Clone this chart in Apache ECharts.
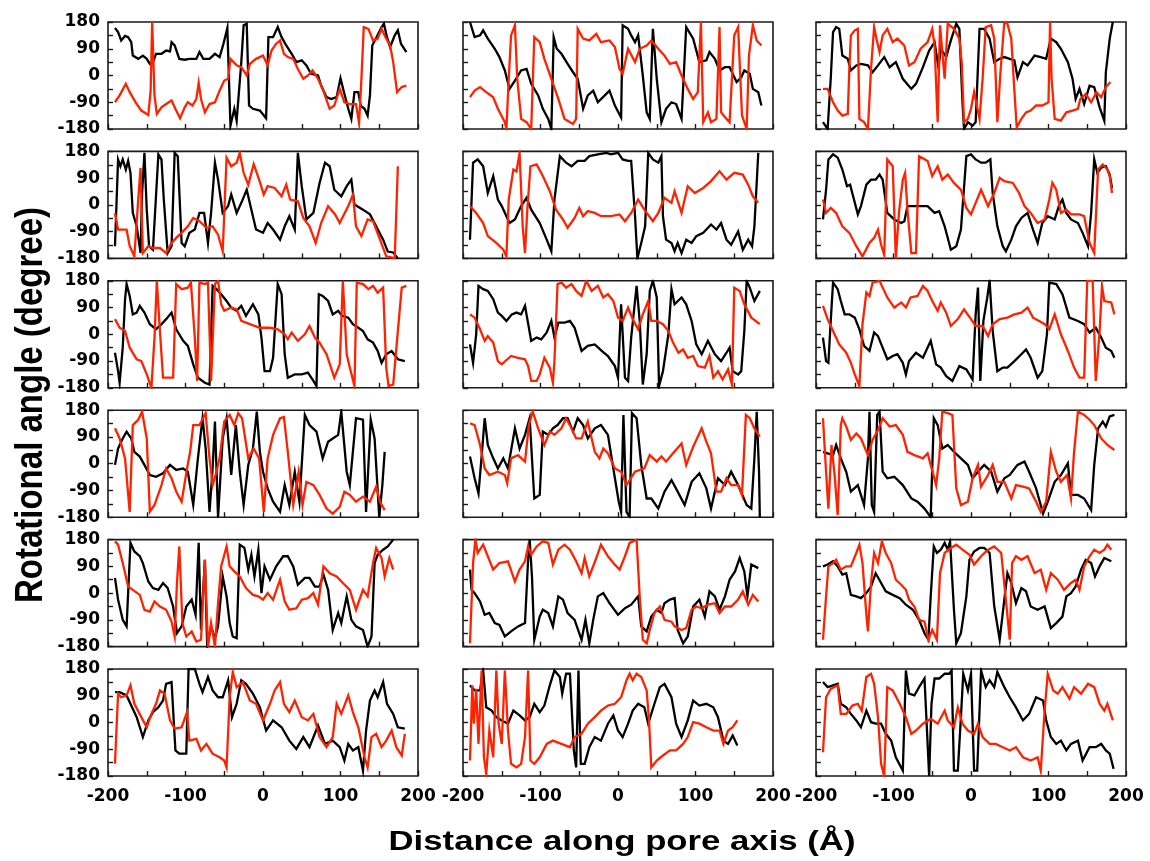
<!DOCTYPE html>
<html>
<head>
<meta charset="utf-8">
<title>Rotational angle along pore axis</title>
<script src="https://cdn.jsdelivr.net/npm/echarts@6/dist/echarts.min.js"></script>
<style>
  html, body { margin: 0; padding: 0; background: #fff; }
  #chart { width: 1150px; height: 861px; }
</style>
</head>
<body>
<div id="chart"></div>
<script>
// Tick labels shown on the shared axes
const xTickLabels = [-200, -100, 0, 100, 200];
const yTickLabels = [-180, -90, 0, 90, 180];
const xTitle = 'Distance along pore axis (Å)';
const yTitle = 'Rotational angle (degree)';

// Each series: [distance along pore axis (Å), rotational angle (degree)]
// Row 1
const p11Black = [[-191,160],[-187,146],[-183,118],[-178,133],[-174,129],[-170,112],[-168,67],[-161,56],[-155,67],[-150,56],[-146,39],[-142,45],[-138,73],[-131,73],[-125,84],[-120,81],[-118,112],[-114,101],[-108,56],[-101,53],[-95,56],[-86,56],[-82,79],[-77,56],[-69,56],[-62,73],[-56,62],[-51,107],[-46,160],[-42,-169],[-37,-112],[-34,-152],[-28,45],[-25,169],[-21,174],[-18,-101],[-13,-112],[-4,-118],[4,-144],[7,129],[13,129],[19,163],[24,129],[30,101],[37,73],[43,45],[50,51],[56,34],[62,6],[71,0],[75,-34],[82,-73],[88,-79],[95,-73],[100,-9],[104,-51],[110,-112],[114,-146],[118,-56],[123,-56],[126,-101],[131,-112],[135,-135],[138,-67],[141,101],[146,126],[153,163],[156,174],[160,129],[164,96],[170,135],[174,152],[178,107],[185,79]];
const p11Red = [[-191,-90],[-185,-67],[-177,-28],[-172,-56],[-163,-96],[-157,-118],[-148,-133],[-145,-51],[-143,180],[-140,-67],[-137,-129],[-131,-107],[-125,-96],[-118,-84],[-112,-118],[-107,-144],[-101,-107],[-97,-90],[-91,-101],[-86,-79],[-83,-25],[-80,-79],[-75,-124],[-69,-96],[-62,-90],[-56,-51],[-50,-17],[-45,-11],[-42,56],[-34,34],[-28,28],[-21,0],[-17,39],[-9,56],[0,67],[6,34],[11,84],[17,107],[22,118],[27,73],[32,62],[39,56],[45,22],[52,-11],[58,0],[64,17],[71,-11],[77,-45],[86,-112],[92,-101],[99,-45],[105,-90],[112,-96],[120,-96],[124,-160],[127,-11],[130,163],[136,157],[142,118],[148,124],[153,157],[159,124],[164,101],[168,45],[173,-56],[179,-39],[185,-34]];
const p12Black = [[-191,180],[-185,129],[-178,135],[-174,152],[-168,124],[-159,90],[-153,62],[-146,17],[-140,-45],[-133,-17],[-125,17],[-118,22],[-112,-28],[-103,-67],[-97,-112],[-90,-146],[-86,-180],[-83,129],[-79,90],[-73,73],[-65,39],[-58,11],[-52,-11],[-45,-112],[-39,-67],[-32,-51],[-26,-90],[-17,-67],[-11,-51],[-4,-101],[4,-141],[6,169],[13,157],[17,135],[22,112],[26,135],[32,0],[37,-124],[41,-146],[45,157],[50,-11],[56,-157],[62,-112],[69,-90],[75,-96],[82,-146],[88,163],[97,124],[105,45],[114,51],[118,79],[125,56],[131,17],[138,28],[144,28],[153,-22],[159,-6],[163,17],[170,6],[174,-45],[181,-56],[185,-101]];
const p12Red = [[-191,-73],[-185,-51],[-178,-39],[-170,-56],[-161,-73],[-155,-112],[-146,-157],[-144,-180],[-141,-11],[-138,135],[-133,169],[-130,-11],[-125,-146],[-118,-157],[-112,-180],[-108,129],[-101,112],[-95,56],[-86,-11],[-77,-79],[-69,-146],[-58,-163],[-54,-146],[-52,157],[-45,124],[-37,118],[-28,140],[-22,112],[-11,118],[-4,96],[2,22],[6,6],[13,90],[22,45],[28,90],[37,101],[43,118],[52,90],[60,67],[67,39],[75,45],[82,0],[90,-45],[97,-79],[103,-56],[107,180],[110,-157],[116,-124],[120,-157],[127,-146],[131,163],[133,-124],[140,-146],[144,-157],[150,135],[155,163],[160,-135],[166,-180],[169,67],[174,169],[179,118],[185,101]];
const p13Black = [[-191,-157],[-185,-180],[-181,-11],[-178,146],[-174,163],[-170,157],[-166,67],[-159,56],[-155,17],[-148,34],[-142,39],[-133,34],[-127,11],[-120,34],[-112,62],[-105,28],[-97,45],[-88,-11],[-77,-45],[-71,-28],[-62,28],[-54,84],[-47,112],[-42,28],[-39,90],[-32,62],[-26,118],[-19,174],[-15,157],[-11,-90],[-9,-180],[-4,-157],[2,-169],[6,-157],[11,157],[17,157],[24,124],[30,45],[37,56],[43,62],[50,56],[56,51],[60,-6],[67,45],[73,34],[82,67],[90,62],[97,56],[103,124],[110,112],[116,90],[125,45],[131,-11],[135,-79],[140,-45],[146,-96],[153,-34],[159,-39],[166,-107],[172,-152],[174,11],[179,124],[183,180]];
const p13Red = [[-191,-45],[-185,-45],[-178,-90],[-172,-118],[-166,-135],[-159,-129],[-157,22],[-155,135],[-150,152],[-146,157],[-144,-146],[-138,-157],[-133,-180],[-129,22],[-125,163],[-122,124],[-118,79],[-114,135],[-108,157],[-101,112],[-95,124],[-86,101],[-80,34],[-73,45],[-65,90],[-56,112],[-50,157],[-47,101],[-43,-157],[-40,169],[-34,-11],[-30,174],[-22,157],[-15,124],[-12,45],[-9,-157],[-4,-146],[0,-112],[4,-56],[11,-146],[15,-11],[19,163],[26,169],[30,124],[34,-157],[38,11],[43,180],[47,174],[52,124],[55,-11],[59,-174],[65,-146],[71,-124],[77,-118],[84,-101],[92,-101],[100,-90],[102,180],[104,-11],[108,-146],[116,-152],[123,-124],[131,-118],[138,-112],[141,-79],[148,-62],[155,-90],[162,-56],[168,-73],[174,-39],[180,-22]];
// Row 2
const p21Black = [[-191,-139],[-187,153],[-184,130],[-181,153],[-177,119],[-174,148],[-171,108],[-168,-27],[-163,-72],[-158,-162],[-156,40],[-153,175],[-150,-16],[-147,-139],[-142,-151],[-135,170],[-131,153],[-128,18],[-123,-162],[-118,-139],[-114,175],[-110,164],[-105,-128],[-101,-139],[-95,-94],[-88,-83],[-82,-27],[-76,-27],[-71,-128],[-67,-27],[-62,142],[-58,85],[-52,-27],[-45,-4],[-41,35],[-34,-27],[-28,7],[-21,51],[-15,-16],[-9,-83],[0,-94],[6,-61],[13,-83],[22,-117],[28,-72],[34,-38],[41,-83],[45,175],[50,63],[56,-49],[65,-27],[73,74],[80,142],[86,130],[92,51],[101,29],[108,63],[114,85],[118,1],[129,-16],[138,-32],[146,-72],[155,-117],[161,-157],[168,-160],[174,-180]];
const p21Red = [[-191,-27],[-187,-83],[-181,-83],[-176,-83],[-172,-139],[-166,-173],[-161,18],[-158,124],[-155,-162],[-148,-139],[-142,-145],[-133,-145],[-125,-162],[-118,-128],[-112,-111],[-105,-94],[-97,-72],[-90,-44],[-82,-55],[-73,-77],[-65,-72],[-58,-100],[-52,-156],[-47,159],[-41,130],[-34,142],[-30,175],[-25,108],[-19,68],[-12,137],[-5,85],[1,35],[6,63],[15,57],[24,29],[30,68],[35,18],[45,12],[52,-44],[60,-72],[68,-128],[75,-61],[84,-4],[93,-32],[99,-61],[110,-4],[116,35],[120,-72],[127,-105],[135,-49],[142,-55],[151,-117],[159,-173],[170,-179],[174,130]];
const p22Black = [[-191,-117],[-187,142],[-181,153],[-174,130],[-168,40],[-161,97],[-155,18],[-150,-4],[-140,-61],[-133,-49],[-125,-4],[-118,24],[-112,-16],[-101,-61],[-92,-117],[-86,-156],[-82,18],[-75,164],[-67,142],[-60,130],[-52,148],[-43,148],[-37,164],[-26,170],[-15,175],[-9,170],[0,175],[6,153],[13,148],[17,148],[22,-38],[25,-180],[30,-128],[35,-72],[39,175],[45,153],[52,142],[56,164],[58,-38],[62,-117],[69,-128],[73,-156],[77,-128],[82,-162],[88,-117],[95,-128],[101,-105],[110,-94],[120,-66],[127,-83],[133,-61],[140,-117],[146,-134],[155,-89],[161,-151],[168,-117],[173,-139],[176,-72],[181,175]];
const p22Red = [[-191,-4],[-183,-27],[-174,-61],[-168,-105],[-157,-128],[-148,-151],[-144,-173],[-141,18],[-135,119],[-131,113],[-127,175],[-125,180],[-123,-72],[-120,-162],[-117,-16],[-113,130],[-105,136],[-97,97],[-88,46],[-80,-16],[-71,-49],[-65,-77],[-56,-44],[-50,-10],[-45,-38],[-39,-21],[-30,-27],[-22,-38],[-9,-38],[2,-32],[9,-55],[17,-27],[26,18],[34,-16],[45,-55],[52,-27],[60,24],[69,7],[73,46],[82,-27],[90,63],[99,40],[110,57],[120,80],[131,113],[140,85],[150,108],[161,102],[168,68],[174,29],[181,7]];
const p23Black = [[-191,-49],[-187,51],[-184,153],[-178,170],[-172,159],[-166,119],[-160,63],[-156,68],[-151,18],[-146,-32],[-142,-4],[-135,68],[-129,85],[-123,85],[-118,102],[-114,85],[-108,-27],[-99,-49],[-90,-61],[-86,-55],[-82,-4],[-73,-4],[-65,-4],[-56,-4],[-47,-27],[-41,-21],[-34,-72],[-26,-151],[-19,-139],[-13,-83],[-6,164],[0,170],[6,153],[13,142],[19,142],[25,153],[28,40],[34,-72],[41,-139],[45,-156],[52,-117],[58,-72],[65,-44],[73,-27],[80,-83],[86,-128],[92,-61],[99,-38],[108,-49],[114,1],[118,18],[123,-27],[129,-49],[138,-61],[144,-94],[151,-139],[155,-27],[159,153],[163,108],[168,125],[174,130],[179,102],[182,57]];
const p23Red = [[-191,18],[-187,-27],[-181,-10],[-174,-27],[-166,-72],[-157,-94],[-148,-139],[-140,-173],[-131,-128],[-125,-111],[-120,-83],[-116,-134],[-112,-168],[-108,153],[-101,130],[-97,-180],[-93,-27],[-88,85],[-85,108],[-82,-16],[-77,-162],[-71,-162],[-67,164],[-56,148],[-50,97],[-43,130],[-37,85],[-30,102],[-22,74],[-13,51],[-6,-10],[0,-32],[6,7],[13,51],[22,-4],[30,40],[37,91],[43,80],[54,74],[62,40],[69,-4],[77,-27],[86,-61],[95,-49],[101,18],[105,74],[110,51],[116,-27],[123,-16],[129,-32],[140,-32],[146,-38],[153,-128],[159,-162],[164,119],[170,136],[176,119],[179,96],[182,40]];
// Row 3
const p31Black = [[-191,-62],[-187,-124],[-185,-163],[-181,-45],[-178,118],[-176,169],[-172,129],[-168,67],[-163,73],[-159,96],[-153,73],[-146,34],[-138,17],[-131,34],[-125,51],[-118,73],[-112,17],[-103,-22],[-97,-39],[-90,-101],[-84,-146],[-75,-163],[-69,-169],[-65,163],[-60,152],[-54,135],[-47,112],[-41,90],[-34,79],[-28,96],[-22,62],[-13,101],[-6,67],[-2,-11],[2,-124],[9,-124],[13,-79],[19,169],[24,135],[28,-67],[32,-146],[41,-135],[50,-135],[58,-129],[65,-157],[69,-174],[72,135],[77,129],[84,112],[90,67],[97,79],[102,62],[110,56],[116,34],[123,22],[129,11],[135,-17],[142,-28],[148,-56],[153,-96],[159,-67],[166,-56],[174,-84],[183,-90]];
const p31Red = [[-191,51],[-185,22],[-178,11],[-172,-45],[-163,-84],[-157,-90],[-150,-135],[-144,-180],[-140,-11],[-137,180],[-133,11],[-129,-146],[-123,-146],[-116,-146],[-112,169],[-105,152],[-97,157],[-93,174],[-88,-11],[-85,-157],[-82,174],[-75,169],[-71,174],[-67,-157],[-62,169],[-58,180],[-54,101],[-50,79],[-41,90],[-34,84],[-28,45],[-17,34],[-4,22],[9,22],[19,17],[28,0],[32,-17],[37,6],[45,-22],[54,0],[60,28],[67,-11],[73,-28],[82,-67],[92,-146],[99,-101],[103,180],[108,-67],[112,-112],[118,-174],[121,174],[129,169],[136,152],[142,163],[148,140],[155,157],[159,-112],[162,-174],[168,-169],[174,11],[179,157],[185,163]];
const p32Black = [[-191,-34],[-187,-96],[-183,0],[-180,163],[-174,152],[-168,146],[-161,118],[-155,73],[-150,62],[-144,45],[-137,67],[-131,73],[-125,67],[-120,96],[-112,-22],[-105,-11],[-99,-17],[-92,6],[-86,45],[-82,-11],[-77,39],[-69,39],[-62,45],[-56,22],[-47,-56],[-39,-39],[-30,-34],[-21,-56],[-13,-73],[-4,-107],[0,-146],[4,101],[9,-146],[13,-157],[17,-11],[24,163],[28,45],[32,-169],[37,-67],[41,146],[45,180],[50,124],[53,-174],[58,-124],[65,0],[69,152],[73,101],[82,124],[88,101],[95,45],[101,-34],[108,-67],[116,-22],[125,-67],[133,-90],[140,-62],[144,-45],[148,-124],[155,-135],[159,-124],[163,11],[166,180],[170,157],[176,112],[183,146]];
const p32Red = [[-191,67],[-185,56],[-178,17],[-172,-22],[-168,-6],[-161,-28],[-155,-90],[-150,-101],[-138,-73],[-129,-79],[-120,-84],[-116,-107],[-112,-157],[-105,-157],[-101,-135],[-95,-79],[-88,-112],[-84,-163],[-82,-90],[-78,169],[-73,174],[-67,157],[-60,169],[-54,146],[-47,129],[-41,180],[-34,146],[-26,163],[-19,124],[-13,135],[-6,112],[0,56],[6,45],[13,90],[19,51],[26,17],[32,67],[39,112],[43,45],[50,45],[58,34],[65,11],[71,-28],[78,-62],[84,-51],[90,-79],[97,-73],[103,-107],[112,-112],[118,-73],[123,-146],[129,-124],[135,-152],[142,-118],[147,-169],[150,157],[157,146],[163,101],[172,56],[183,34]];
const p33Black = [[-191,-11],[-187,-90],[-184,-96],[-181,45],[-178,174],[-172,152],[-168,112],[-163,67],[-157,67],[-150,56],[-144,17],[-138,-39],[-131,-56],[-125,6],[-120,-6],[-114,-45],[-108,-84],[-101,-73],[-95,-67],[-88,-96],[-84,-135],[-80,-90],[-71,-62],[-62,-79],[-52,-22],[-45,-101],[-39,-112],[-32,-141],[-24,-157],[-15,-107],[-6,-118],[2,-152],[6,67],[9,157],[12,-157],[16,45],[21,124],[24,180],[28,11],[34,-124],[41,-112],[47,-112],[56,-90],[65,-67],[71,-51],[77,-79],[86,-146],[92,-124],[98,0],[101,174],[110,169],[118,135],[127,56],[138,45],[146,34],[153,6],[161,22],[168,-11],[174,-45],[181,-56],[185,-79]];
const p33Red = [[-191,96],[-185,51],[-178,11],[-170,-34],[-161,-62],[-155,-96],[-150,-135],[-144,-174],[-140,34],[-135,141],[-131,129],[-127,174],[-118,180],[-114,157],[-108,124],[-99,90],[-90,107],[-84,90],[-78,124],[-69,129],[-62,163],[-56,146],[-50,112],[-43,79],[-39,107],[-32,73],[-26,28],[-17,51],[-9,84],[0,51],[6,28],[15,28],[22,-6],[28,34],[37,51],[47,56],[56,67],[65,73],[73,90],[80,56],[88,45],[95,34],[101,17],[108,67],[116,0],[125,-56],[133,-112],[140,-146],[146,-146],[150,180],[157,180],[161,-157],[166,11],[169,163],[172,112],[181,107],[185,67]];
// Row 4
const p41Black = [[-191,-4],[-187,51],[-181,85],[-176,108],[-170,85],[-166,40],[-159,24],[-153,-4],[-146,-38],[-138,-44],[-129,-32],[-120,-4],[-112,-21],[-103,-16],[-97,-27],[-90,-139],[-84,18],[-78,153],[-74,51],[-69,-162],[-65,-16],[-62,142],[-58,-180],[-52,85],[-47,153],[-41,-38],[-35,130],[-30,-27],[-25,-139],[-19,-4],[-13,51],[-8,175],[-4,40],[0,-27],[6,-83],[13,-128],[22,-162],[28,-72],[34,-139],[41,-27],[47,-128],[54,164],[60,130],[69,108],[77,18],[84,74],[90,85],[97,97],[101,175],[108,-27],[112,-72],[120,153],[129,148],[133,-162],[139,148],[144,85],[150,-180],[154,-72],[157,40]];
const p41Red = [[-191,119],[-185,85],[-178,18],[-172,-162],[-168,130],[-161,148],[-156,175],[-150,85],[-146,-162],[-140,-139],[-131,-72],[-125,-16],[-118,-49],[-112,-94],[-105,-128],[-98,-16],[-94,40],[-90,130],[-82,130],[-74,170],[-69,18],[-65,-72],[-60,-27],[-56,18],[-50,142],[-43,164],[-37,130],[-32,170],[-27,153],[-19,18],[-12,51],[-5,18],[1,-162],[6,18],[13,97],[22,153],[27,157],[32,40],[39,-139],[46,-27],[51,-139],[56,-61],[65,-72],[73,-105],[82,-151],[90,-168],[99,-145],[105,-94],[112,-105],[120,-128],[129,-111],[138,-128],[146,-77],[151,-128],[157,-156]];
const p42Black = [[-191,24],[-185,-49],[-180,-100],[-176,24],[-172,153],[-168,63],[-161,18],[-155,-16],[-148,18],[-142,-16],[-133,119],[-127,51],[-120,97],[-114,153],[-108,-117],[-101,-105],[-97,108],[-90,97],[-84,119],[-78,130],[-71,153],[-65,153],[-58,108],[-52,153],[-45,130],[-39,85],[-30,119],[-22,130],[-13,97],[-4,-49],[1,-128],[4,-162],[7,164],[11,-162],[15,-180],[18,170],[24,153],[30,-4],[37,-117],[43,-117],[52,-151],[60,-94],[69,-55],[77,-94],[86,-139],[95,-61],[105,-32],[114,-83],[120,-151],[129,-49],[138,-72],[146,-27],[155,-72],[166,-139],[172,-151],[176,18],[179,175],[182,-27],[183,-180]];
const p42Red = [[-191,136],[-185,130],[-178,63],[-172,-16],[-166,-38],[-155,-27],[-146,-38],[-143,-66],[-138,18],[-129,29],[-120,7],[-115,130],[-110,175],[-103,119],[-95,63],[-88,108],[-82,97],[-73,119],[-67,153],[-60,119],[-54,85],[-47,85],[-39,142],[-30,40],[-24,18],[-19,51],[-13,35],[-4,-16],[4,-27],[11,-72],[22,-27],[34,-16],[41,29],[50,7],[56,24],[62,7],[71,35],[82,68],[88,-4],[97,57],[108,119],[114,74],[120,35],[127,-94],[133,-94],[140,-49],[146,-72],[155,-72],[160,-105],[165,164],[170,153],[176,119],[183,91]];
const p43Black = [[-191,40],[-185,35],[-178,29],[-174,63],[-168,18],[-161,-27],[-155,-94],[-146,-72],[-138,-139],[-133,18],[-131,175],[-128,-139],[-125,-162],[-121,164],[-118,175],[-114,-27],[-108,-49],[-99,-44],[-88,-72],[-77,-117],[-69,-128],[-60,-151],[-52,-180],[-48,153],[-43,130],[-37,51],[-30,63],[-22,40],[-13,18],[-4,-4],[2,-49],[9,-27],[17,-4],[26,-27],[34,-94],[43,-49],[50,-38],[60,-4],[69,7],[75,-27],[84,-83],[93,-168],[99,-128],[108,-61],[116,-38],[125,1],[129,-105],[138,-105],[146,-117],[155,-156],[159,-4],[164,119],[170,142],[174,125],[179,159],[185,164]];
const p43Red = [[-191,153],[-187,-27],[-184,-151],[-180,63],[-176,-38],[-172,-173],[-168,130],[-166,153],[-161,125],[-155,80],[-148,102],[-142,85],[-133,29],[-127,80],[-120,113],[-114,153],[-105,125],[-97,130],[-88,97],[-82,40],[-73,29],[-62,18],[-56,35],[-52,-4],[-45,-72],[-41,18],[-37,175],[-30,170],[-24,164],[-19,-83],[-13,-139],[-4,-128],[2,-49],[9,-4],[13,-77],[22,-38],[28,-4],[34,-61],[43,-61],[52,-117],[58,-72],[67,-77],[75,-83],[84,-128],[90,-162],[97,-128],[103,40],[110,-27],[116,-61],[124,-38],[129,-117],[133,40],[138,175],[146,164],[153,148],[159,130],[168,85],[176,63],[185,46]];
// Row 5
const p51Black = [[-191,51],[-187,-22],[-181,-90],[-176,-112],[-171,169],[-166,140],[-159,124],[-155,101],[-148,39],[-142,17],[-135,11],[-129,34],[-123,17],[-116,-45],[-111,-135],[-105,-112],[-99,-45],[-92,-22],[-87,-73],[-83,169],[-80,-124],[-75,112],[-72,-180],[-67,-112],[-62,-152],[-58,-112],[-52,56],[-47,-11],[-43,-101],[-39,-146],[-34,-152],[-30,163],[-24,152],[-19,79],[-15,129],[-11,56],[-6,146],[-2,0],[2,90],[9,45],[17,90],[26,124],[32,124],[39,90],[45,28],[54,51],[60,51],[67,22],[73,22],[78,62],[84,11],[90,-124],[97,-67],[101,-101],[108,-11],[114,-90],[120,-112],[129,-124],[135,-180],[140,-146],[144,101],[148,129],[155,146],[161,157],[168,180]];
const p51Red = [[-191,174],[-187,163],[-181,101],[-174,22],[-168,11],[-159,-6],[-153,-56],[-146,-62],[-140,-28],[-133,-45],[-125,-56],[-118,-96],[-114,-146],[-111,34],[-108,157],[-104,-101],[-99,-146],[-92,-129],[-86,-163],[-80,-157],[-75,112],[-71,-180],[-67,-101],[-62,-180],[-58,-34],[-54,90],[-47,157],[-43,90],[-37,73],[-30,56],[-22,17],[-13,-6],[-6,-11],[0,-22],[6,0],[13,-22],[22,45],[28,-28],[34,-56],[43,-51],[50,-22],[58,-17],[65,0],[71,-39],[78,90],[86,67],[95,56],[103,34],[112,11],[120,-56],[129,11],[135,-11],[142,101],[146,152],[153,118],[157,56],[163,118],[168,79]];
const p52Black = [[-191,79],[-189,11],[-185,0],[-178,-28],[-172,-73],[-166,-67],[-159,-101],[-153,-107],[-146,-146],[-138,-129],[-129,-112],[-120,-101],[-116,112],[-114,180],[-111,56],[-108,-157],[-101,-79],[-97,-56],[-90,-67],[-84,-112],[-77,-11],[-71,-22],[-65,-67],[-56,-90],[-47,-157],[-42,-90],[-37,-169],[-32,-90],[-26,-11],[-19,0],[-11,-34],[0,-73],[9,-51],[17,-39],[26,-11],[30,-112],[37,-129],[43,-79],[50,-56],[56,-67],[60,-34],[67,-22],[73,-17],[77,-124],[84,-169],[90,-146],[97,-45],[105,-22],[112,-79],[118,6],[125,-11],[131,-56],[138,-11],[144,45],[151,73],[157,118],[163,73],[167,-11],[172,96],[181,84]];
const p52Red = [[-191,-169],[-187,101],[-184,180],[-181,135],[-174,163],[-168,124],[-161,79],[-153,101],[-142,107],[-133,39],[-127,79],[-120,107],[-116,157],[-112,129],[-105,157],[-97,174],[-90,169],[-84,96],[-77,146],[-69,163],[-62,146],[-54,107],[-47,67],[-43,118],[-37,56],[-28,118],[-22,163],[-13,124],[-6,101],[2,79],[9,124],[15,169],[24,180],[28,-11],[32,-157],[37,-169],[41,-124],[47,-67],[54,-45],[60,-90],[69,-96],[73,-112],[82,-124],[88,-118],[95,-56],[101,-45],[108,-51],[116,-39],[125,-34],[131,-67],[138,-45],[146,-45],[155,-22],[161,6],[168,-39],[174,-6],[181,-28]];
const p53Black = [[-191,90],[-185,96],[-178,107],[-172,90],[-166,62],[-161,67],[-155,-6],[-148,-11],[-142,-17],[-135,0],[-129,22],[-123,67],[-116,34],[-110,6],[-101,-6],[-92,-17],[-84,-39],[-75,-56],[-67,-90],[-60,-135],[-55,-157],[-52,-11],[-48,157],[-44,135],[-39,146],[-34,169],[-30,146],[-27,174],[-22,-56],[-19,-169],[-13,-135],[-6,-11],[-2,112],[4,140],[11,152],[17,152],[24,135],[30,-45],[37,-157],[43,-22],[47,67],[52,34],[58,-34],[65,17],[71,6],[77,-45],[86,-56],[95,-45],[103,-118],[110,-101],[118,-79],[123,-11],[129,0],[135,22],[142,79],[148,112],[155,101],[160,56],[166,90],[172,118],[181,107]];
const p53Red = [[-191,-157],[-187,-11],[-184,90],[-178,101],[-174,112],[-168,79],[-161,90],[-155,90],[-148,135],[-144,163],[-140,101],[-135,-73],[-133,-129],[-129,34],[-125,135],[-120,101],[-115,174],[-110,135],[-103,101],[-97,45],[-90,28],[-84,11],[-80,-22],[-73,-45],[-67,-90],[-60,-96],[-55,-157],[-50,-124],[-44,-157],[-40,67],[-34,135],[-26,152],[-19,163],[-11,146],[-2,129],[4,96],[13,124],[22,146],[30,157],[39,135],[45,-22],[50,-157],[53,101],[58,124],[65,112],[73,124],[82,67],[90,79],[97,11],[103,67],[112,45],[120,11],[129,34],[135,45],[140,11],[146,90],[153,124],[159,146],[166,135],[172,146],[176,163],[181,146]];
// Row 6
const p61Black = [[-191,102],[-185,102],[-176,91],[-170,57],[-163,18],[-155,-49],[-148,7],[-142,35],[-135,51],[-129,74],[-125,130],[-118,136],[-113,-94],[-108,-105],[-99,-105],[-96,180],[-88,180],[-82,130],[-78,102],[-71,153],[-65,108],[-58,85],[-52,85],[-45,142],[-40,18],[-34,63],[-28,142],[-22,130],[-13,97],[-4,51],[4,-27],[13,7],[24,-16],[34,-61],[43,-89],[52,-49],[60,-83],[71,-10],[80,-72],[90,-61],[99,-83],[105,-128],[110,-72],[116,-94],[123,-83],[129,-162],[133,-27],[138,74],[144,108],[148,85],[155,136],[160,63],[168,29],[174,-16],[183,-21]];
const p61Red = [[-191,-139],[-187,97],[-183,85],[-176,91],[-171,125],[-166,63],[-157,18],[-150,-16],[-144,29],[-138,63],[-133,108],[-127,97],[-120,7],[-114,-21],[-105,-16],[-98,35],[-95,-61],[-86,-55],[-80,-94],[-73,-72],[-65,-105],[-56,-117],[-50,-128],[-47,-151],[-43,85],[-39,170],[-34,119],[-26,136],[-17,74],[-9,63],[0,7],[9,63],[15,108],[22,136],[27,63],[34,35],[41,74],[50,18],[58,7],[65,29],[73,-49],[82,-83],[90,-49],[95,63],[101,29],[110,91],[116,35],[123,-16],[131,-117],[135,-151],[140,-49],[146,-38],[153,-83],[159,-61],[166,-27],[172,-83],[179,-111],[183,-38]];
const p62Black = [[-191,125],[-185,108],[-178,108],[-174,175],[-170,51],[-163,40],[-157,18],[-150,7],[-142,-4],[-135,40],[-127,24],[-120,7],[-114,18],[-108,63],[-101,35],[-95,57],[-88,125],[-82,175],[-75,153],[-72,97],[-67,164],[-62,164],[-57,-94],[-54,-151],[-51,175],[-48,-139],[-43,-139],[-37,-83],[-30,-49],[-22,-61],[-13,-4],[-6,24],[0,-27],[6,-49],[13,-4],[19,40],[26,63],[34,51],[39,-4],[47,63],[54,119],[60,130],[69,85],[75,-4],[82,-49],[90,7],[97,74],[105,57],[114,63],[123,51],[129,18],[136,-61],[142,-72],[148,-44],[154,-77]];
const p62Red = [[-191,-128],[-188,125],[-186,-4],[-183,113],[-180,-72],[-176,175],[-173,-117],[-170,-173],[-166,-27],[-161,-117],[-157,175],[-154,-4],[-150,-72],[-146,175],[-142,-27],[-138,-139],[-131,-151],[-125,-139],[-120,-49],[-116,175],[-113,-128],[-108,-139],[-101,-117],[-92,-72],[-84,-61],[-73,-72],[-62,-83],[-56,-49],[-47,-38],[-39,-4],[-30,18],[-22,40],[-13,57],[-4,63],[4,85],[11,142],[15,164],[19,142],[24,164],[30,153],[37,108],[40,7],[43,-151],[50,-128],[58,-111],[67,-94],[75,-94],[84,-72],[90,-49],[97,1],[105,-4],[114,-16],[123,-27],[131,-27],[136,-72],[142,-27],[148,-16],[154,7]];
const p63Black = [[-191,136],[-185,119],[-178,125],[-172,130],[-168,63],[-161,51],[-155,29],[-148,7],[-142,-16],[-135,40],[-129,1],[-123,-4],[-116,-4],[-110,-38],[-103,-61],[-97,-117],[-88,-162],[-84,175],[-80,97],[-73,91],[-67,119],[-60,148],[-54,-180],[-51,63],[-47,148],[-41,148],[-34,164],[-28,164],[-25,175],[-22,-162],[-17,-162],[-13,18],[-10,164],[-4,108],[0,164],[4,-162],[8,-162],[13,175],[19,119],[24,142],[30,119],[34,170],[43,119],[50,85],[58,51],[67,7],[75,29],[84,85],[93,74],[97,7],[103,-49],[110,-72],[116,-61],[123,-94],[129,-72],[138,-61],[144,-128],[153,-83],[161,-83],[168,-72],[174,-94],[179,-105],[184,-156]];
const p63Red = [[-191,-100],[-187,85],[-181,113],[-172,125],[-168,29],[-161,29],[-153,57],[-146,63],[-141,40],[-135,153],[-129,164],[-125,130],[-120,18],[-116,-139],[-112,-180],[-108,119],[-101,108],[-92,63],[-84,18],[-77,-38],[-71,-27],[-62,-4],[-52,12],[-43,-4],[-34,40],[-30,7],[-22,-16],[-17,51],[-11,-4],[-4,-27],[4,-38],[9,-4],[15,-49],[24,-72],[32,-72],[41,-83],[50,-94],[58,-83],[67,-117],[77,-128],[86,-117],[90,-162],[95,40],[99,164],[106,108],[112,97],[118,119],[127,80],[133,119],[142,97],[151,130],[159,119],[166,63],[172,40],[176,63],[183,7]];

// Panels in reading order (row by row), each with its black and red trace
const panels = [
  [p11Black, p11Red], [p12Black, p12Red], [p13Black, p13Red],
  [p21Black, p21Red], [p22Black, p22Red], [p23Black, p23Red],
  [p31Black, p31Red], [p32Black, p32Red], [p33Black, p33Red],
  [p41Black, p41Red], [p42Black, p42Red], [p43Black, p43Red],
  [p51Black, p51Red], [p52Black, p52Red], [p53Black, p53Red],
  [p61Black, p61Red], [p62Black, p62Red], [p63Black, p63Red]
];

const nCols = 3, nRows = 6;
const colLeft = [108, 463, 816];
const panelW = 310, panelH = 107;
const rowTop0 = 22, rowPitch = 129.4;
const traceColors = ['#000000', '#ff2200'];
const tickStyle = { color: '#1a1a1a', width: 1.4 };
const labelFont = { color: '#000', fontFamily: '"DejaVu Sans", sans-serif', fontWeight: 'bold', fontSize: 17 };

const grids = [], xAxes = [], yAxes = [], series = [];
panels.forEach((pair, i) => {
  const r = Math.floor(i / nCols), c = i % nCols;
  grids.push({
    left: colLeft[c], top: rowTop0 + r * rowPitch, width: panelW, height: panelH,
    show: true, borderColor: '#1a1a1a', borderWidth: 1.6, backgroundColor: 'transparent'
  });
  // Ticks sit on the bottom edge and point into the panel
  xAxes.push({
    type: 'value', gridIndex: i, position: 'bottom', min: -200, max: 200, interval: 50,
    axisLine: { show: false, onZero: false },
    axisTick: { show: true, inside: true, length: 5, lineStyle: tickStyle },
    splitLine: { show: false },
    axisLabel: Object.assign({
      show: r === nRows - 1, margin: 12, showMinLabel: true, showMaxLabel: true,
      formatter: v => xTickLabels.includes(v) ? String(v) : ''
    }, labelFont)
  });
  // Ticks sit on the left edge and point into the panel
  yAxes.push({
    type: 'value', gridIndex: i, position: 'left', min: -180, max: 180, interval: 45,
    axisLine: { show: false, onZero: false },
    axisTick: { show: true, inside: true, length: 5, lineStyle: tickStyle },
    splitLine: { show: false },
    axisLabel: Object.assign({
      show: c === 0, margin: 8, showMinLabel: true, showMaxLabel: true,
      formatter: v => yTickLabels.includes(v) ? String(v) : ''
    }, labelFont)
  });
  pair.forEach((trace, k) => {
    series.push({
      type: 'line', xAxisIndex: i, yAxisIndex: i, data: trace,
      showSymbol: false, symbol: 'none', animation: false, clip: true,
      lineStyle: { color: traceColors[k], width: 2.3, join: 'miter' },
      z: 2 + k
    });
  });
});

const chart = echarts.init(document.getElementById('chart'), null, { renderer: 'canvas' });
chart.setOption({
  backgroundColor: '#ffffff',
  animation: false,
  grid: grids,
  xAxis: xAxes,
  yAxis: yAxes,
  series: series,
  graphic: [
    {
      type: 'text', x: 622, y: 842, scaleX: 1.24, scaleY: 1,
      style: {
        text: xTitle, font: 'bold 28px "Liberation Sans", Arial, sans-serif', fill: '#000',
        textAlign: 'center', textVerticalAlign: 'middle', align: 'center', verticalAlign: 'middle'
      }
    },
    {
      type: 'text', x: 31, y: 405, rotation: Math.PI / 2, scaleX: 1, scaleY: 1.2,
      style: {
        text: yTitle, font: 'bold 33px "Liberation Sans", Arial, sans-serif', fill: '#000',
        textAlign: 'center', textVerticalAlign: 'middle', align: 'center', verticalAlign: 'middle'
      }
    }
  ]
});
</script>
</body>
</html>
